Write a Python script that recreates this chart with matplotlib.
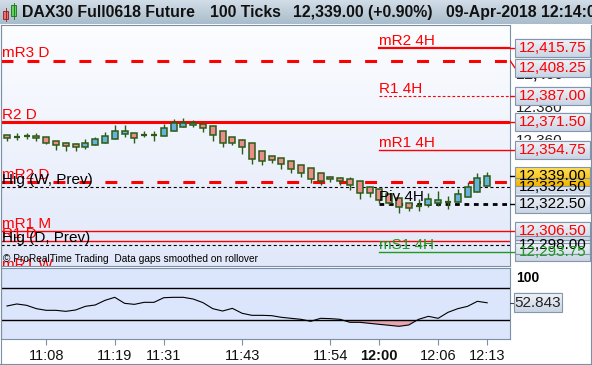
import numpy as np
import matplotlib.pyplot as plt
from matplotlib.patches import Rectangle
from matplotlib.lines import Line2D
from matplotlib.colors import to_rgb

plt.rcParams['font.family'] = ['Liberation Sans', 'DejaVu Sans']
plt.rcParams['lines.scale_dashes'] = False

W, H = 592, 365

# ---- data ----
opens = [12363.5, 12362.7, 12363.0, 12363.1, 12362.3, 12360.3, 12358.7, 12358.1, 12356.7, 12357.9,
         12359.1, 12361.1, 12364.3, 12364.7, 12363.9, 12363.9, 12363.3, 12365.9, 12368.3, 12369.5,
         12370.3, 12369.1, 12365.9, 12362.3, 12360.7, 12358.7, 12353.9, 12350.9, 12349.8, 12347.9,
         12345.6, 12343.8, 12340.8, 12338.4, 12338.0, 12337.2, 12336.0, 12332.8, 12331.4, 12328.4,
         12325.9, 12323.0, 12321.4, 12321.7, 12323.3, 12323.8, 12323.8, 12326.5, 12329.5, 12333.4]
highs = [12363.5, 12364.7, 12364.7, 12364.7, 12362.3, 12360.3, 12359.7, 12359.1, 12361.1, 12362.7,
         12365.5, 12369.5, 12369.9, 12364.7, 12366.3, 12365.9, 12370.3, 12373.1, 12373.9, 12372.7,
         12370.3, 12369.1, 12365.9, 12362.3, 12361.5, 12358.7, 12353.9, 12350.9, 12349.8, 12347.9,
         12345.6, 12343.8, 12340.8, 12339.2, 12338.8, 12338.8, 12336.0, 12332.8, 12331.4, 12328.4,
         12325.9, 12323.0, 12325.3, 12329.2, 12330.4, 12327.2, 12331.2, 12335.8, 12341.2, 12341.8]
lows = [12360.3, 12360.7, 12361.5, 12360.3, 12358.5, 12355.0, 12354.3, 12354.3, 12355.2, 12357.9,
        12359.1, 12361.1, 12362.3, 12359.1, 12362.3, 12360.3, 12363.3, 12365.9, 12368.3, 12368.7,
        12365.5, 12360.3, 12356.7, 12357.5, 12352.3, 12346.4, 12346.0, 12347.2, 12343.6, 12340.8,
        12338.8, 12335.2, 12333.6, 12335.8, 12334.0, 12330.8, 12325.6, 12326.8, 12323.2, 12322.0,
        12316.9, 12318.5, 12318.5, 12320.5, 12321.3, 12319.3, 12323.8, 12326.5, 12329.5, 12333.4]
closes = [12361.9, 12362.7, 12363.0, 12361.9, 12358.7, 12357.5, 12357.1, 12356.5, 12358.7, 12361.1,
          12363.1, 12366.3, 12365.9, 12361.9, 12363.9, 12363.9, 12367.7, 12370.7, 12371.1, 12371.1,
          12367.7, 12363.5, 12358.7, 12358.7, 12356.3, 12349.5, 12347.9, 12348.9, 12346.2, 12343.6,
          12341.2, 12337.6, 12336.4, 12337.2, 12336.4, 12334.0, 12329.2, 12329.2, 12324.8, 12323.3,
          12320.5, 12320.0, 12321.4, 12325.3, 12324.9, 12323.8, 12328.4, 12332.4, 12337.8, 12339.0]

osc = [46.8, 50.6, 48.1, 41.8, 38.7, 38.7, 36.8, 39.3, 46.2, 48.7,
       57.4, 63.1, 51.8, 49.9, 53.7, 53.7, 62.4, 63.1, 63.1, 59.9,
       53.1, 41.8, 37.4, 42.4, 33.1, 29.3, 29.3, 28.7, 25.6, 23.7,
       21.8, 18.1, 23.7, 23.1, 21.8, 16.2, 16.2, 14.3, 12.4, 10.6,
       8.7, 11.2, 21.8, 27.4, 23.7, 34.9, 41.8, 46.2, 55.6, 52.843]
osc_levels = [80, 20]

time_ticks = [4, 11, 16, 24, 33, 38, 44, 49]
time_labels = ['11:08', '11:19', '11:31', '11:43', '11:54', '12:00', '12:06', '12:13']

level_names = ['mR2 4H', 'mR3 D', 'R1 4H', 'R2 D', 'mR1 4H', 'mR2 D', 'Hig (W, Prev)',
               'Piv 4H', 'mR1 M', 'R1 D', 'Hig (D, Prev)', 'mS1 4H', 'mR1 W']
level_prices = [12415.75, 12408.25, 12387.00, 12371.50, 12354.75, 12335.75, 12332.50,
                12322.50, 12306.50, 12300.25, 12298.00, 12293.75, 12281.75]

last_price = 12339.00

RED, BLACK, GREEN = '#ff0000', '#000000', '#1e9a1e'
big_dash = (0, (8.6, 10.1))
styles = {
    'mR2 4H': dict(color=RED, lw=1.6, ls='-', h4=True),
    'mR3 D': dict(color=RED, lw=2.2, ls=big_dash, h4=False),
    'R1 4H': dict(color=RED, lw=0.8, ls=(0, (2.0, 1.5)), h4=True),
    'R2 D': dict(color=RED, lw=2.2, ls='-', h4=False),
    'mR1 4H': dict(color=RED, lw=1.0, ls='-', h4=True),
    'mR2 D': dict(color=RED, lw=2.2, ls=big_dash, h4=False),
    'Hig (W, Prev)': dict(color=BLACK, lw=0.8, ls=(0, (2.2, 1.8)), h4=False),
    'Piv 4H': dict(color=BLACK, lw=2.0, ls=(0, (3.4, 3.4)), h4=True),
    'mR1 M': dict(color=RED, lw=1.0, ls='-', h4=False),
    'R1 D': dict(color=RED, lw=1.0, ls='-', h4=False),
    'Hig (D, Prev)': dict(color=BLACK, lw=0.8, ls=(0, (2.2, 1.8)), h4=False),
    'mS1 4H': dict(color=GREEN, lw=1.0, ls='-', h4=True),
    'mR1 W': dict(color=RED, lw=1.0, ls='-', h4=False),
}
# price boxes on the right scale (hidden ones first, they end up underneath)
under_boxes = [('Hig (W, Prev)', BLACK), ('Hig (D, Prev)', BLACK)]
top_boxes = [('mR2 4H', RED), ('mR3 D', RED), ('R1 4H', RED), ('R2 D', RED), ('mR1 4H', RED),
             ('last', BLACK), ('Piv 4H', BLACK), ('mR1 M', RED), ('mS1 4H', GREEN)]
scale_ticks = [12400, 12380, 12360]


def frac(x0, y0, x1, y1):
    return [x0 / W, 1 - y1 / H, (x1 - x0) / W, (y1 - y0) / H]


def vgrad(ax, extent, top, bottom, z=0):
    t = np.linspace(0, 1, 64)[:, None, None]
    img = (1 - t) * np.array(to_rgb(top)) + t * np.array(to_rgb(bottom))
    ax.imshow(img, extent=extent, aspect='auto', zorder=z, interpolation='bilinear')


fig = plt.figure(figsize=(W / 100, H / 100), dpi=100)
fig.patch.set_facecolor('white')
BORDER = '#7b90a4'

# ---- title bar ----
axt = fig.add_axes(frac(0, 0, 592, 24))
vgrad(axt, [0, 592, 24, 0], '#d2dde7', '#a9bccb')
axt.set_xlim(0, 592)
axt.set_ylim(24, 0)
axt.axis('off')
axt.add_patch(Rectangle((3, 11), 5, 8, fc='#ee6f6f', ec='#8a1f1f', lw=0.6))
axt.plot([5.5, 5.5], [8, 21], color='#8a1f1f', lw=0.6)
axt.add_patch(Rectangle((11, 5), 5, 11, fc='#5fd35f', ec='#1d6b1d', lw=0.6))
axt.plot([13.5, 13.5], [3, 19], color='#1d6b1d', lw=0.6)
for x, s in [(22, 'DAX30 Full0618 Future'), (210, '100 Ticks'),
             (293, '12,339.00 (+0.90%)'), (446, '09-Apr-2018 12:14:05')]:
    axt.text(x, 12.5, s, fontsize=11.4, fontweight='bold', color='#111111', va='center', ha='left',
             clip_on=True)

# ---- main price panel ----
x_lo, x_hi = -0.61, 51.33
p_lo, p_hi = 12285.4, 12429.5
ax = fig.add_axes(frac(1, 25, 510, 266))
vgrad(ax, [x_lo, x_hi, p_lo, p_hi], '#fcfdff', '#e1e8f9')
ax.set_xlim(x_lo, x_hi)
ax.set_ylim(p_lo, p_hi)
ax.tick_params(left=False, labelleft=False, bottom=False, labelbottom=False)
for sp in ax.spines.values():
    sp.set_color(BORDER)

idx = np.arange(len(opens))
o, hi, lo, c = map(np.array, (opens, highs, lows, closes))
up, dn, fl = c > o, c < o, c == o
EDGE = '#2c5c14'
ax.vlines(idx, lo, hi, color=EDGE, lw=1.0, zorder=3)
ax.bar(idx[up], (c - o)[up], bottom=o[up], width=0.62, color='#66b2de', edgecolor=EDGE, lw=1.1, zorder=4)
ax.bar(idx[dn], (o - c)[dn], bottom=c[dn], width=0.62, color='#ec8d8d', edgecolor=EDGE, lw=1.1, zorder=4)
ax.hlines(o[fl], idx[fl] - 0.31, idx[fl] + 0.31, color=EDGE, lw=1.6, zorder=4)

h4_start = 37.95
lab_x = x_lo + 0.1
for name, price in zip(level_names, level_prices):
    st = styles[name]
    x0 = h4_start if st['h4'] else x_lo
    ax.plot([x0, x_hi], [price, price], color=st['color'], lw=st['lw'], ls=st['ls'], zorder=2)
    ax.annotate(name, (h4_start if st['h4'] else lab_x, price), xytext=(0, 2.2),
                textcoords='offset points', fontsize=11, color=st['color'],
                va='baseline', ha='left', annotation_clip=False, clip_on=True, zorder=5)

ax.text(0.004, 0.03, '\u00a9 ProRealTime Trading  Data gaps smoothed on rollover',
        transform=ax.transAxes, fontsize=7.3, color='black', va='center', ha='left', zorder=6)

# ---- oscillator panel ----
axi = fig.add_axes(frac(1, 268, 510, 339), sharex=ax)
axi.set_facecolor('#dbe5fb')
axi.set_ylim(-15.1, 118.1)
for lv in osc_levels:
    axi.axhline(lv, color='black', lw=1.0, zorder=2)
osc_a = np.array(osc)
axi.fill_between(idx, osc_a, osc_levels[1], where=osc_a < osc_levels[1], interpolate=True,
                 color='#e8a5b1', lw=0, zorder=1)
axi.plot(idx, osc_a, color='black', lw=0.8, zorder=3)
axi.set_yticks([])
axi.set_xticks(time_ticks, time_labels)
axi.tick_params(axis='x', length=4, color=BORDER, labelsize=10.5, pad=3, labelcolor='#111111')
axi.get_xticklabels()[time_labels.index('12:00')].set_fontweight('bold')
for sp in axi.spines.values():
    sp.set_color(BORDER)
ax.tick_params(bottom=False, labelbottom=False)
ax.set_xlim(x_lo, x_hi)

# ---- right price scale ----
axr = fig.add_axes(frac(510, 25, 592, 266))
axr.set_xlim(0, 82)
axr.set_ylim(p_lo, p_hi)
axr.axis('off')
ppu = 241 / (p_hi - p_lo)
half = 9.2 / ppu
price_of = dict(zip(level_names, level_prices))
price_of['last'] = last_price


def price_box(axx, yc, text, color, face=('#f3f6fb', '#c9d4e4'), x0=5, x1=80, hh=None):
    hh = half if hh is None else hh
    vgrad(axx, [x0, x1, yc - hh, yc + hh], face[0], face[1], z=3)
    axx.add_patch(Rectangle((x0, yc - hh), x1 - x0, 2 * hh, fc='none', ec='#8696aa', lw=0.8, zorder=4))
    axx.text((x0 + x1) / 2, yc, text, fontsize=11, color=color, ha='center', va='center', zorder=5)


for p in scale_ticks:
    axr.text(6, p, f'{p:,}', fontsize=11, color='#222222', ha='left', va='center',
             fontweight='bold' if p % 100 == 0 else 'normal', zorder=1)

for name, col in under_boxes:
    p = price_of[name]
    price_box(axr, p, f'{p:,.2f}', col)

prev_bottom = None
for name, col in top_boxes:
    p = price_of[name]
    yc = p
    if prev_bottom is not None and yc + half > prev_bottom - 1.5 / ppu:
        yc = prev_bottom - 1.5 / ppu - half
    axr.plot([0, 5], [p, yc], color=col, lw=1.0, zorder=2)
    face = ('#ffdf5a', '#f2b600') if name == 'last' else ('#f3f6fb', '#c9d4e4')
    price_box(axr, yc, f'{p:,.2f}', col, face=face)
    prev_bottom = yc - half
axr.set_xlim(0, 82)
axr.set_ylim(p_lo, p_hi)

# ---- right oscillator scale ----
axri = fig.add_axes(frac(510, 268, 592, 339))
axri.set_xlim(0, 82)
axri.set_ylim(-15.1, 118.1)
axri.axis('off')
axri.text(6, 100, '100', fontsize=10, fontweight='bold', ha='left', va='center')
oh = 9.5 * (133.2 / 71)
axri.plot([0, 4], [osc[-1], osc[-1]], color='#444444', lw=0.8)
price_box(axri, osc[-1], f'{osc[-1]:.3f}', '#222222', x0=4, x1=52, hh=oh)
axri.set_xlim(0, 82)
axri.set_ylim(-15.1, 118.1)

# outer frame
fig.add_artist(Line2D([590.5 / W, 590.5 / W], [1 - 25 / H, 1 - 364 / H], color=BORDER, lw=0.8))
fig.add_artist(Line2D([0, 591 / W], [1 - 363.5 / H, 1 - 363.5 / H], color=BORDER, lw=0.8))
fig.add_artist(Line2D([0.5 / W, 0.5 / W], [1 - 25 / H, 1 - 364 / H], color=BORDER, lw=0.8))

fig.savefig('out.png', dpi=100)
